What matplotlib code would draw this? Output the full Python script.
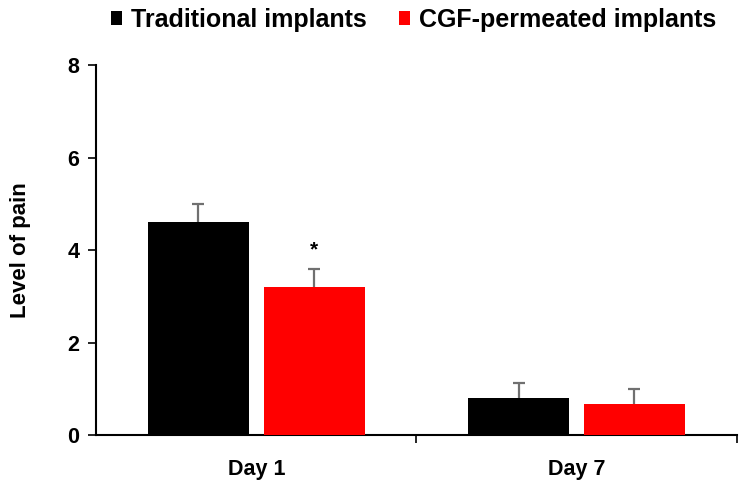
import numpy as np
import matplotlib
matplotlib.use("Agg")
import matplotlib.pyplot as plt

# values
days = ["Day 1", "Day 7"]
traditional = [4.6, 0.8]
traditional_err = [0.4, 0.32]
cgf = [3.2, 0.68]
cgf_err = [0.38, 0.31]

plt.rcParams['font.family'] = ['Liberation Sans', 'DejaVu Sans']
plt.rcParams['font.weight'] = 'bold'

fig = plt.figure(figsize=(7.45, 4.82), dpi=100)
ax = fig.add_axes([0.129, 0.0975, 0.860, 0.7675])

x = np.arange(len(days))
w = 0.315
gap = 0.046
pos_t = x - (w + gap) / 2
pos_c = x + (w + gap) / 2

ax.bar(pos_t, traditional, w, color='black', label='Traditional implants', zorder=3)
ax.bar(pos_c, cgf, w, color='#ff0000', label='CGF-permeated implants', zorder=3)

# upper-only error bars
for pos, vals, errs in [(pos_t, traditional, traditional_err), (pos_c, cgf, cgf_err)]:
    tops = np.array(vals) + np.array(errs)
    ax.vlines(pos, vals, tops, color='#707070', lw=1.6, zorder=2)
    ax.plot(pos, tops, ls='none', marker='_', ms=9, mew=1.6, color='#707070', zorder=2)

# significance marker
ax.text(pos_c[0], cgf[0] + cgf_err[0] + 0.22, '*', ha='center', va='bottom',
        fontsize=15, fontweight='bold')

ax.set_xlim(-0.5, 1.5)
ax.set_ylim(0, 8)
ax.set_yticks([0, 2, 4, 6, 8])
ax.set_xticks(x)
ax.set_xticklabels(days, fontsize=15.5, fontweight='bold')
ax.set_xticks([0.5, 1.5], minor=True)
ax.tick_params(axis='x', which='major', length=0, pad=17)
ax.tick_params(axis='x', which='minor', length=6, width=1.2, direction='out')
ax.tick_params(axis='y', length=6, width=1.2, direction='out', labelsize=15.5, pad=6)
for lab in ax.get_yticklabels():
    lab.set_fontweight('bold')
ax.set_ylabel('Level of pain', fontsize=16, fontweight='bold', labelpad=26)

for s in ['top', 'right']:
    ax.spines[s].set_visible(False)
ax.spines['left'].set_linewidth(1.5)
ax.spines['bottom'].set_linewidth(1.5)

fig.legend(loc='upper center', bbox_to_anchor=(0.555, 1.03), ncol=2, frameon=False,
           prop={'size': 18, 'weight': 'bold'}, handlelength=0.45, handleheight=0.45,
           handletextpad=0.35, columnspacing=1.3)

fig.savefig('out.png', dpi=100)
